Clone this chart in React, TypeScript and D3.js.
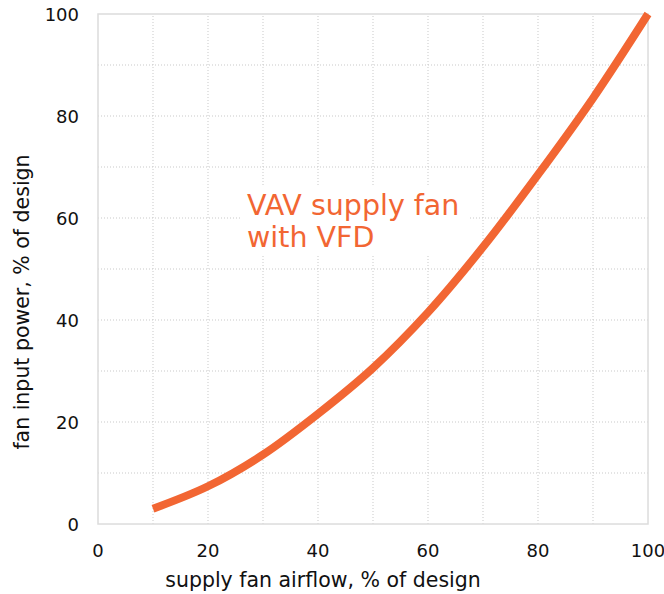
import React from "react";
import * as d3 from "d3";

const airflow = [10, 20, 30, 40, 50, 60, 70, 80, 90, 100];
const power = [3.0, 7.4, 13.6, 21.6, 30.6, 41.5, 54.3, 68.5, 83.5, 100];
const xTicks = [0, 20, 40, 60, 80, 100];
const yTicks = [0, 20, 40, 60, 80, 100];
const gridVals = [10, 20, 30, 40, 50, 60, 70, 80, 90];
const labelLines = ["VAV supply fan", "with VFD"];

const W = 664, H = 594;
const M = { left: 98, right: 16, top: 14, bottom: 70 };
const ORANGE = "#f26633";
const FONT = "'DejaVu Sans', sans-serif";

export default function App() {
  const x = d3.scaleLinear().domain([0, 100]).range([M.left, W - M.right]);
  const y = d3.scaleLinear().domain([0, 100]).range([H - M.bottom, M.top]);
  const line = d3
    .line<number>()
    .x((_, i) => x(airflow[i]))
    .y((d) => y(d))
    .curve(d3.curveCatmullRom.alpha(0.5));

  return (
    <svg width={W} height={H} style={{ position: "absolute", left: 0, top: 0 }} fontFamily={FONT}>
      <rect x={0} y={0} width={W} height={H} fill="#fff" />
      {gridVals.map((v) => (
        <g key={v}>
          <line x1={x(v)} x2={x(v)} y1={y(0)} y2={y(100)} stroke="#c9c9c9" strokeWidth={1} strokeDasharray="1,2" />
          <line x1={x(0)} x2={x(100)} y1={y(v)} y2={y(v)} stroke="#c9c9c9" strokeWidth={1} strokeDasharray="1,2" />
        </g>
      ))}
      <rect x={x(0)} y={y(100)} width={x(100) - x(0)} height={y(0) - y(100)} fill="none" stroke="#dcdcdc" strokeWidth={1.5} />
      <rect x={242} y={185} width={228} height={70} fill="#fff" />
      {labelLines.map((t, i) => (
        <text key={t} x={247} y={215 + i * 32} fontSize={28.5} fill={ORANGE}>
          {t}
        </text>
      ))}
      <path d={line(power) || ""} fill="none" stroke={ORANGE} strokeWidth={8} />
      {xTicks.map((v) => (
        <text key={v} x={x(v)} y={557} fontSize={18} textAnchor="middle" fill="#111">
          {v}
        </text>
      ))}
      {yTicks.map((v) => (
        <text key={v} x={79} y={y(v) + 6.5} fontSize={18} textAnchor="end" fill="#111">
          {v}
        </text>
      ))}
      <text x={323} y={587} fontSize={20.5} textAnchor="middle" fill="#111">
        supply fan airflow, % of design
      </text>
      <text
        transform={`translate(29, 302) rotate(-90)`}
        fontSize={20.5}
        textAnchor="middle"
        fill="#111"
      >
        fan input power, % of design
      </text>
    </svg>
  );
}
